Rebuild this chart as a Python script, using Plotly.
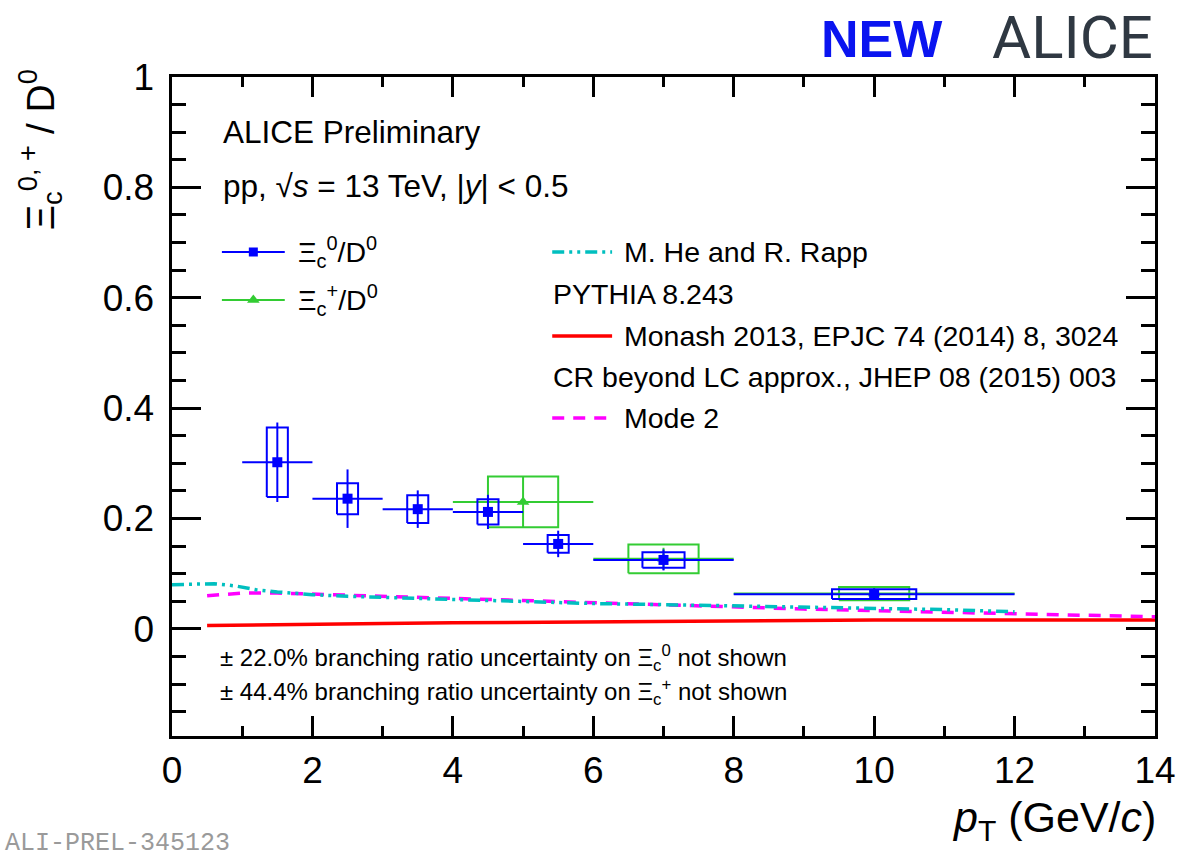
import plotly.graph_objects as go

# ---------------- data ----------------
# Xi_c^0 / D0
xi0_pt = [1.5, 2.5, 3.5, 4.5, 5.5, 7.0, 10.0]
xi0_pt_hw = [0.5, 0.5, 0.5, 0.5, 0.5, 1.0, 2.0]
xi0_val = [0.302, 0.236, 0.217, 0.212, 0.154, 0.125, 0.063]
xi0_stat = [0.072, 0.053, 0.034, 0.031, 0.024, 0.019, 0.010]
xi0_syst = [0.063, 0.028, 0.025, 0.023, 0.016, 0.014, 0.009]

# Xi_c^+ / D0
xip_pt = [5.0, 7.0, 10.0]
xip_pt_hw = [1.0, 1.0, 2.0]
xip_val = [0.230, 0.127, 0.064]
xip_stat = [0.046, 0.020, 0.010]
xip_syst = [0.046, 0.026, 0.012]

# model curves
herapp_pt = [0.0, 0.3, 0.6, 0.9, 1.2, 1.5, 2.0, 2.5, 3.0, 3.5, 4.0, 5.0, 6.0,
             7.0, 8.0, 9.0, 10.0, 11.0, 12.0]
herapp_val = [0.080, 0.081, 0.082, 0.078, 0.071, 0.067, 0.062, 0.059, 0.057,
              0.055, 0.053, 0.049, 0.046, 0.044, 0.042, 0.040, 0.038, 0.035, 0.031]

mode2_pt = [0.5, 1.0, 1.5, 2.0, 3.0, 4.0, 5.0, 6.0, 7.0, 8.0, 9.0, 10.0, 11.0,
            12.0, 13.0, 14.0]
mode2_val = [0.060, 0.065, 0.065, 0.063, 0.060, 0.056, 0.051, 0.047, 0.044,
             0.040, 0.036, 0.033, 0.030, 0.027, 0.025, 0.022]

monash_pt = [0.5, 1.0, 2.0, 3.0, 4.0, 5.0, 6.0, 7.0, 8.0, 10.0, 12.0, 14.0]
monash_val = [0.006, 0.007, 0.009, 0.010, 0.011, 0.012, 0.013, 0.014, 0.015,
              0.016, 0.016, 0.016]

# box half-widths used for systematic uncertainties
xi0_box_hw = [0.15, 0.15, 0.15, 0.15, 0.15, 0.3, 0.6]
xip_box_hw = [0.5, 0.5, 0.5]

# ---------------- styling ----------------
BLUE = "#0000ff"
GREEN = "#33cc33"
CYAN = "#00bfbf"
MAGENTA = "#ff00ff"
RED = "#ff0000"
FONT = "Liberation Sans, Arial, Helvetica, sans-serif"

W, H = 1188, 859
L, R, T, B = 172, 1157, 77, 736
YMIN, YMAX = -0.194, 1.0


def px(xp):
    return (xp - L) / (R - L)


def py(yp):
    return (B - yp) / (B - T)


def box_path(xc, hw, yc, dy):
    xs, ys = [], []
    for x, w, y, d in zip(xc, hw, yc, dy):
        xs += [x - w, x + w, x + w, x - w, x - w, None]
        ys += [y - d, y - d, y + d, y + d, y - d, None]
    return xs, ys


fig = go.Figure()

# model curves
fig.add_trace(go.Scatter(x=monash_pt, y=monash_val, mode="lines",
                         line=dict(color=RED, width=3.5), hoverinfo="skip"))
fig.add_trace(go.Scatter(x=mode2_pt, y=mode2_val, mode="lines",
                         line=dict(color=MAGENTA, width=3.5, dash="12px,9px"),
                         hoverinfo="skip"))
fig.add_trace(go.Scatter(x=herapp_pt, y=herapp_val, mode="lines",
                         line=dict(color=CYAN, width=3.5,
                                   dash="12px,5px,3px,5px,3px,5px"),
                         hoverinfo="skip"))

# Xi_c^+ : systematic boxes + statistical errors
bx, by = box_path(xip_pt, xip_box_hw, xip_val, xip_syst)
fig.add_trace(go.Scatter(x=bx, y=by, mode="lines",
                         line=dict(color=GREEN, width=2), hoverinfo="skip"))
fig.add_trace(go.Scatter(
    x=xip_pt, y=xip_val, mode="markers",
    marker=dict(symbol="triangle-up", size=11, color=GREEN),
    error_x=dict(type="data", array=xip_pt_hw, width=0, thickness=2, color=GREEN),
    error_y=dict(type="data", array=xip_stat, width=0, thickness=2, color=GREEN)))

# Xi_c^0 : systematic boxes + statistical errors
bx, by = box_path(xi0_pt, xi0_box_hw, xi0_val, xi0_syst)
fig.add_trace(go.Scatter(x=bx, y=by, mode="lines",
                         line=dict(color=BLUE, width=2), hoverinfo="skip"))
fig.add_trace(go.Scatter(
    x=xi0_pt, y=xi0_val, mode="markers",
    marker=dict(symbol="square", size=10, color=BLUE),
    error_x=dict(type="data", array=xi0_pt_hw, width=0, thickness=2, color=BLUE),
    error_y=dict(type="data", array=xi0_stat, width=0, thickness=2, color=BLUE)))

# legend glyphs drawn on a pixel-space overlay axis
leg = dict(xaxis="x2", yaxis="y2", hoverinfo="skip", mode="lines")
fig.add_trace(go.Scatter(x=[222, 285], y=[252, 252], line=dict(color=BLUE, width=2), **leg))
fig.add_trace(go.Scatter(x=[253.5], y=[252], xaxis="x2", yaxis="y2", mode="markers",
                         marker=dict(symbol="square", size=9, color=BLUE), hoverinfo="skip"))
fig.add_trace(go.Scatter(x=[222, 285], y=[300, 300], line=dict(color=GREEN, width=2), **leg))
fig.add_trace(go.Scatter(x=[253.5], y=[300], xaxis="x2", yaxis="y2", mode="markers",
                         marker=dict(symbol="triangle-up", size=11, color=GREEN),
                         hoverinfo="skip"))
fig.add_trace(go.Scatter(x=[553, 613], y=[252, 252],
                         line=dict(color=CYAN, width=3.5, dash="12px,5px,3px,5px,3px,5px"),
                         **leg))
fig.add_trace(go.Scatter(x=[553, 613], y=[336, 336], line=dict(color=RED, width=3.5), **leg))
fig.add_trace(go.Scatter(x=[553, 613], y=[418, 418],
                         line=dict(color=MAGENTA, width=3.5, dash="12px,9px"), **leg))

ann = []


def text(xp, yp, s, size, color="black", family=FONT, xanchor="left",
         yanchor="middle", angle=0):
    ann.append(dict(x=px(xp), y=py(yp), xref="paper", yref="paper", text=s,
                    showarrow=False, xanchor=xanchor, yanchor=yanchor,
                    textangle=angle, font=dict(size=size, color=color, family=family)))


text(221, 132, "ALICE Preliminary", 31.5)
text(221, 186, "pp, √<i>s</i> = 13 TeV, |<i>y</i>| &lt; 0.5", 31.5)
text(296, 252, "Ξ<sub>c</sub><sup>0</sup>/D<sup>0</sup>", 28.5)
text(296, 300, "Ξ<sub>c</sub><sup>+</sup>/D<sup>0</sup>", 28.5)
text(623, 252, "M. He and R. Rapp", 28.5)
text(552, 294, "PYTHIA 8.243", 28.5)
text(623, 336, "Monash 2013, EPJC 74 (2014) 8, 3024", 28.5)
text(552, 377, "CR beyond LC approx., JHEP 08 (2015) 003", 28.5)
text(623, 418, "Mode 2", 28.5)
text(218, 658, "± 22.0% branching ratio uncertainty on Ξ<sub>c</sub><sup>0</sup> not shown", 24)
text(218, 692, "± 44.4% branching ratio uncertainty on Ξ<sub>c</sub><sup>+</sup> not shown", 24)

# axis titles
text(1160, 820, "<i>p</i><sub>T</sub> (GeV/<i>c</i>)", 43, xanchor="right")
text(40, 150, "Ξ<sub>c</sub><sup>0, +</sup> / D<sup>0</sup>", 39, xanchor="center", angle=-90)

# header labels
text(820, 39, "<b>NEW</b>", 52, color="#0a14f0")
text(992, 37, "ALICE", 60, color="#2f3842", family="Roboto, DejaVu Sans, sans-serif")
text(232, 843, "ALI-PREL-345123", 25, color="#9a9a9a",
     family="Liberation Mono, DejaVu Sans Mono, monospace", xanchor="right")

axis_common = dict(showline=True, linecolor="black", linewidth=3, mirror="allticks",
                   ticks="inside", tickcolor="black", tickwidth=2.5,
                   showgrid=False, zeroline=False,
                   tickfont=dict(size=37, family=FONT, color="black"))

fig.update_layout(
    width=W, height=H,
    margin=dict(l=L, r=W - R, t=T, b=H - B),
    paper_bgcolor="white", plot_bgcolor="white",
    showlegend=False,
    xaxis=dict(range=[0, 14], tickmode="linear", tick0=0, dtick=2, ticklen=20,
               minor=dict(dtick=1, tick0=0, ticklen=10, ticks="inside",
                          tickcolor="black", tickwidth=2.5),
               **axis_common),
    yaxis=dict(range=[YMIN, YMAX], tickmode="linear", tick0=0, dtick=0.2, ticklen=29,
               minor=dict(dtick=0.05, tick0=0, ticklen=14, ticks="inside",
                          tickcolor="black", tickwidth=2.5),
               ticksuffix="\u2009", **axis_common),
    xaxis2=dict(range=[L, R], overlaying="x", visible=False, fixedrange=True),
    yaxis2=dict(range=[B, T], overlaying="y", visible=False, fixedrange=True),
    annotations=ann,
)

fig.write_html("out.html")
